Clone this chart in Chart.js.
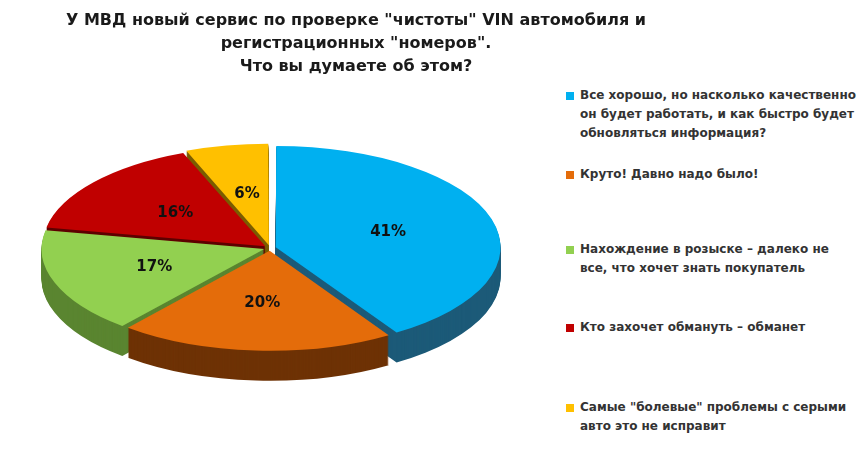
<!DOCTYPE html>
<html><head><meta charset="utf-8">
<script src="https://cdn.jsdelivr.net/npm/chart.js@4/dist/chart.umd.min.js"></script>
<style>
body{margin:0;width:860px;height:455px;background:#fff;position:relative;overflow:hidden;font-family:"DejaVu Sans",sans-serif}
#title{position:absolute;left:0;top:8px;width:712px;text-align:center;font-weight:bold;font-size:16px;line-height:23px;color:#1a1a1a;z-index:2}
#wrap{position:absolute;left:0;top:-22px;width:540px;height:540px}
#legend{position:absolute;left:566px;top:0;width:294px;font-size:12px;font-weight:bold;color:#333;line-height:19px}
.item{position:absolute;left:0;padding-left:14px;width:280px}
.sw{position:absolute;left:0;top:6px;width:8px;height:8px}
</style></head><body>
<div id="title">У МВД новый сервис по проверке "чистоты" VIN автомобиля и<br>регистрационных "номеров".<br>Что вы думаете об этом?</div>
<div id="wrap"><canvas id="pie" width="540" height="540"></canvas></div>
<div id="legend"></div>
<script>
const categories = [
  "Все хорошо, но насколько  качественно он будет работать, и как быстро будет обновляться  информация?",
  "Круто! Давно надо было!",
  "Нахождение в розыске – далеко не все, что хочет знать покупатель",
  "Кто захочет обмануть – обманет",
  "Самые \"болевые\" проблемы с серыми авто это не исправит"
];
const values = [41, 20, 17, 16, 6];
const topColors = ["#00B0F0", "#E46C0A", "#92D050", "#C00000", "#FFC000"];
const sideColors = ["#1C5A78", "#6E3205", "#5A8530", "#5E0000", "#7A5C00"];
const legendTops = [86, 165, 240, 318, 398];

const legend = document.getElementById("legend");
categories.forEach((c, i) => {
  const d = document.createElement("div");
  d.className = "item";
  d.style.top = legendTops[i] + "px";
  d.innerHTML = `<span class="sw" style="background:${topColors[i]}"></span>${c}`;
  legend.appendChild(d);
});

const SY = 0.45, DEPTH = 30;
const pie3d = {
  id: "pie3d",
  beforeDatasetsDraw(chart) {
    const ctx = chart.ctx;
    const arcs = chart.getDatasetMeta(0).data;
    const cy = (chart.chartArea.top + chart.chartArea.bottom) / 2;
    ctx.save();
    ctx.translate(0, cy);
    ctx.scale(1, SY);
    ctx.translate(0, -cy);
    for (let d = DEPTH; d >= 1; d--) {
      ctx.save();
      ctx.translate(0, d / SY);
      arcs.forEach((a, i) => {
        const old = a.options.backgroundColor;
        a.options.backgroundColor = sideColors[i];
        a.draw(ctx);
        a.options.backgroundColor = old;
      });
      ctx.restore();
    }
    arcs.forEach(a => a.draw(ctx));
    ctx.restore();
    // labels
    ctx.save();
    ctx.font = "bold 15px 'DejaVu Sans', sans-serif";
    ctx.fillStyle = "#111";
    ctx.textAlign = "center";
    ctx.textBaseline = "middle";
    arcs.forEach((a, i) => {
      const p = a.tooltipPosition();
      ctx.fillText(values[i] + "%", p.x, cy + (p.y - cy) * SY);
    });
    ctx.restore();
    return false;
  }
};

new Chart(document.getElementById("pie"), {
  type: "pie",
  data: { labels: categories, datasets: [{ data: values, backgroundColor: topColors, borderWidth: 0, offset: 24 }] },
  options: {
    responsive: false, animation: false, radius: 222,
    plugins: { legend: { display: false }, tooltip: { enabled: false } }
  },
  plugins: [pie3d]
});
</script>
</body></html>
